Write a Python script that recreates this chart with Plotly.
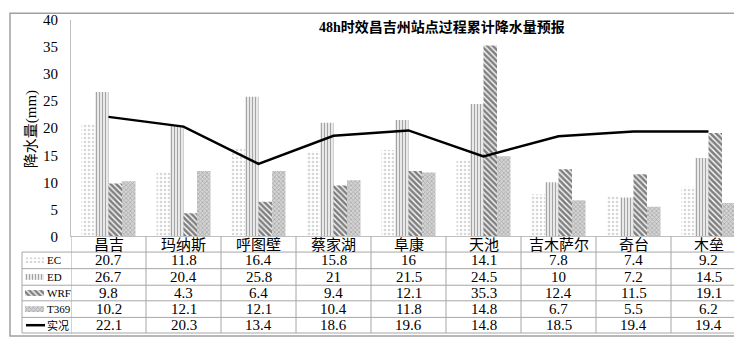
import plotly.graph_objects as go

categories = ["昌吉", "玛纳斯", "呼图壁", "蔡家湖", "阜康", "天池", "吉木萨尔", "奇台", "木垒"]
ec = [20.7, 11.8, 16.4, 15.8, 16, 14.1, 7.8, 7.4, 9.2]
ed = [26.7, 20.4, 25.8, 21, 21.5, 24.5, 10, 7.2, 14.5]
wrf = [9.8, 4.3, 6.4, 9.4, 12.1, 35.3, 12.4, 11.5, 19.1]
t369 = [10.2, 12.1, 12.1, 10.4, 11.8, 14.8, 6.7, 5.5, 6.2]
obs = [22.1, 20.3, 13.4, 18.6, 19.6, 14.8, 18.5, 19.4, 19.4]
series_names = ["EC", "ED", "WRF", "T369", "实况"]
title_text = "48h时效昌吉州站点过程累计降水量预报"
y_title = "降水量(mm)"

W, H = 742, 337
ML, MR, MT, MB = 14, 4, 10, 6
PW = W - ML - MR
PH = H - MT - MB


def px(x):
    return (x - ML) / PW


def py(y):
    return (H - MB - y) / PH


FONT = "Liberation Serif, 'Noto Sans CJK SC', serif"
LINEC = "#a6a6a6"

patterns = [
    dict(shape=".", fgcolor="#b0b0b0", bgcolor="white", size=4, solidity=0.35),
    dict(shape="|", fgcolor="#4a4a4a", bgcolor="white", size=3, solidity=0.5),
    dict(shape="\\", fgcolor="#000000", bgcolor="white", size=4, solidity=0.65),
    dict(shape="x", fgcolor="#808080", bgcolor="#d4d4d4", size=3, solidity=0.45),
]
vals = [ec, ed, wrf, t369]

fig = go.Figure()
for name, v, pat in zip(series_names[:4], vals, patterns):
    fig.add_trace(go.Bar(x=categories, y=v, name=name,
                         marker=dict(color="white", pattern=pat, line=dict(width=0)),
                         showlegend=False))
fig.add_trace(go.Scatter(x=categories, y=obs, mode="lines", name="实况",
                         line=dict(color="black", width=2.5), showlegend=False))

# legend-key samples in the table (separate axes)
row_centers = [256.5, 273.5, 290, 306.5, 323]
for name, pat, rc in zip(series_names[:4], patterns, row_centers[:4]):
    fig.add_trace(go.Bar(x=[1], y=[331 - rc], orientation="h", width=6, base=0,
                         marker=dict(color="white", pattern=pat, line=dict(width=0)),
                         xaxis="x2", yaxis="y2", showlegend=False, hoverinfo="skip"))

fig.update_layout(
    width=W, height=H,
    margin=dict(l=ML, r=MR, t=MT, b=MB),
    paper_bgcolor="white", plot_bgcolor="white",
    barmode="group", bargap=0.28, bargroupgap=0,
    font=dict(family=FONT, color="black"),
    xaxis=dict(domain=[px(63), 1], range=[-0.5, 8.5], showticklabels=False,
               showline=True, linecolor="#bfbfbf", linewidth=1, showgrid=False,
               zeroline=False, ticks=""),
    yaxis=dict(domain=[py(232), 1], range=[0, 40], dtick=5, showline=True,
               linecolor="#bfbfbf", linewidth=1, showgrid=False, zeroline=False,
               ticks="", tickfont=dict(size=15, family=FONT),
               ticklabelstandoff=9),
    xaxis2=dict(domain=[px(17), px(36)], range=[0, 1], visible=False),
    yaxis2=dict(domain=[py(331), py(248)], range=[0, 83], visible=False),
)

shapes = []
# outer frame
shapes.append(dict(type="rect", xref="paper", yref="paper",
                   x0=px(2), x1=px(740), y0=py(334), y1=py(3),
                   line=dict(color="#a0a0a0", width=1.5), fillcolor="rgba(0,0,0,0)"))
# table horizontal lines
for yy in [248, 265, 282, 298, 315, 331]:
    shapes.append(dict(type="line", xref="paper", yref="paper",
                       x0=px(14), x1=px(738), y0=py(yy), y1=py(yy),
                       line=dict(color=LINEC, width=1)))
# table vertical lines
for i in range(10):
    shapes.append(dict(type="line", xref="x", yref="paper",
                       x0=i - 0.5, x1=i - 0.5, y0=py(232), y1=py(331),
                       line=dict(color=LINEC, width=1)))
shapes.append(dict(type="line", xref="paper", yref="paper",
                   x0=px(14), x1=px(14), y0=py(248), y1=py(331),
                   line=dict(color=LINEC, width=1)))
# observed line legend key
shapes.append(dict(type="line", xref="paper", yref="paper",
                   x0=px(18), x1=px(37), y0=py(323), y1=py(323),
                   line=dict(color="black", width=2.5)))
fig.update_layout(shapes=shapes)

ann = []
ann.append(dict(text="<b>" + title_text + "</b>", xref="paper", yref="paper",
                x=px(434), y=py(17), showarrow=False, font=dict(size=14, family=FONT),
                xanchor="center", yanchor="middle"))
ann.append(dict(text=y_title, xref="paper", yref="paper", x=px(23), y=py(122),
                showarrow=False, textangle=-90, font=dict(size=15, family=FONT),
                xanchor="center", yanchor="middle"))
for c in categories:
    ann.append(dict(text=c, xref="x", yref="paper", x=c, y=py(240.5), showarrow=False,
                    font=dict(size=15, family=FONT), xanchor="center", yanchor="middle"))
all_vals = [ec, ed, wrf, t369, obs]
for name, v, rc in zip(series_names, all_vals, row_centers):
    ann.append(dict(text=name, xref="paper", yref="paper", x=px(37), y=py(rc),
                    showarrow=False, font=dict(size=11, family=FONT),
                    xanchor="left", yanchor="middle"))
    for c, val in zip(categories, v):
        ann.append(dict(text=f"{val:g}", xref="x", yref="paper", x=c, y=py(rc),
                        showarrow=False, font=dict(size=15, family=FONT),
                        xanchor="center", yanchor="middle"))
fig.update_layout(annotations=ann)

fig.write_html("out.html")
